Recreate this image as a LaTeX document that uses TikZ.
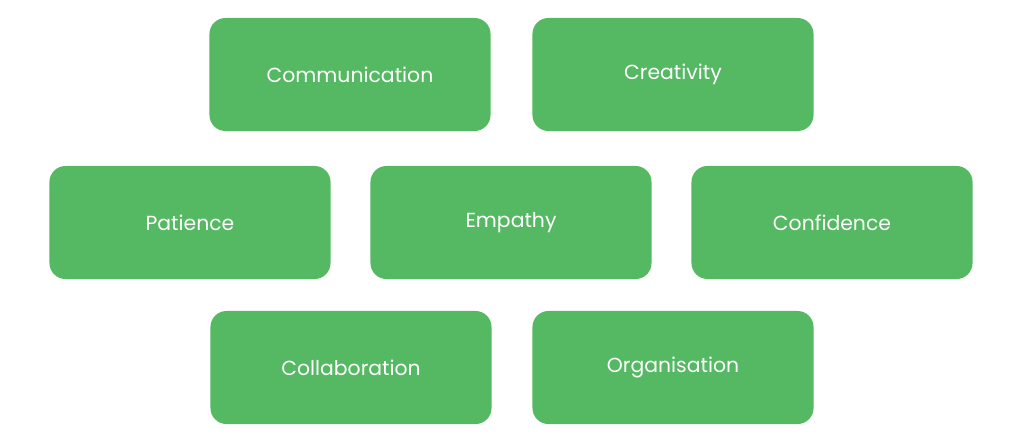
\documentclass[tikz,border=0pt]{standalone}
\usepackage{fontspec}
\setmainfont{Poppins}
\definecolor{skillgreen}{HTML}{55B862}
\tikzset{skill/.style={rectangle,rounded corners=0.4cm,fill=skillgreen,text=white,
  minimum width=7.025cm,minimum height=2.825cm,font=\fontsize{14.5}{17}\selectfont}}
\begin{document}
\begin{tikzpicture}[x=0.025cm,y=-0.025cm]
  \useasboundingbox (0,0) rectangle (1024,443);
  \node[skill] (comm) at (350,74.5) {Communication};
  \node[skill] (crea) at (673,74.5) {Creativity};
  \node[skill] (pati) at (190,222.5) {Patience};
  \node[skill] (empa) at (511,222.5) {Empathy};
  \node[skill] (conf) at (832,222.5) {Confidence};
  \node[skill] (coll) at (351,367.5) {Collaboration};
  \node[skill] (orga) at (673,367.5) {Organisation};
\end{tikzpicture}
\end{document}
